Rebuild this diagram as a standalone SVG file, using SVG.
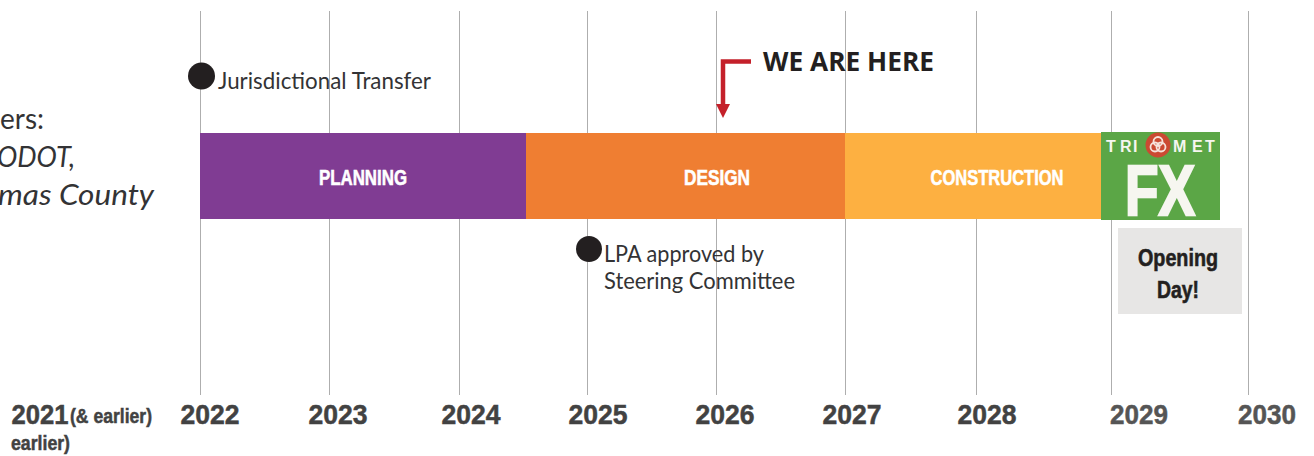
<svg xmlns="http://www.w3.org/2000/svg" width="1314" height="456" viewBox="0 0 1314 456">
<style>
.grid{stroke:#aeaeae;stroke-width:1;fill:none}
.src{font-family:Lato,"Open Sans",sans-serif;fill:#333335}
.bar{font-family:"Liberation Sans",Arial,sans-serif;font-weight:700;font-size:22px;fill:#fff;stroke:#fff;stroke-width:.6;text-anchor:middle}
.yr{font-family:"Liberation Sans",Arial,sans-serif;font-weight:700;font-size:28px;fill:#424242;stroke:#424242;stroke-width:.5;text-anchor:middle}
.sm{font-family:"Liberation Sans",Arial,sans-serif;font-weight:700;font-size:21px;fill:#424242;stroke:#424242;stroke-width:.5}
.op{font-family:"Liberation Sans",Arial,sans-serif;font-weight:700;font-size:24px;fill:#231f20;stroke:#231f20;stroke-width:.6;text-anchor:middle}
.logo{font-family:"Liberation Sans",Arial,sans-serif;font-weight:700;fill:#f6f6f0}
.dot{fill:#231f20}
</style>
<rect width="1314" height="456" fill="#fff"/>
<g id="connectors">
<path class="grid" d="M200.500 11V395M329.500 11V395M459.500 11V395M587.500 11V395M716.500 11V395M845.500 11V395M976.500 11V395M1111.500 11V395M1248.500 11V395"/>
</g>
<g id="partners">
<text class="src" x="44" y="129" font-size="29" text-anchor="end" textLength="44" lengthAdjust="spacingAndGlyphs">ers:</text>
<text class="src" x="75" y="167" font-size="29" font-style="italic" text-anchor="end" textLength="78" lengthAdjust="spacingAndGlyphs">ODOT,</text>
<text class="src" x="154" y="205" font-size="29" font-style="italic" text-anchor="end" textLength="156" lengthAdjust="spacingAndGlyphs">mas County</text>
</g>
<g id="jurisdictional-transfer">
<circle class="dot" cx="201.500" cy="76" r="13.500"/>
<text class="src" x="218" y="89" font-size="24" textLength="213" lengthAdjust="spacingAndGlyphs">Jurisdictional Transfer</text>
</g>
<g id="we-are-here">
<path d="M751 61.500H723V105" fill="none" stroke="#c4202a" stroke-width="4.500"/>
<path d="M716 104H730L723 118Z" fill="#c4202a"/>
<text x="763" y="71" font-family="'Open Sans','Noto Sans',sans-serif" font-weight="700" font-size="27" fill="#231f20" textLength="171" lengthAdjust="spacingAndGlyphs">WE ARE HERE</text>
</g>
<g id="planning">
<rect x="200" y="133" width="326" height="86" fill="#803c93"/>
<text class="bar" x="363" y="185" textLength="88" lengthAdjust="spacingAndGlyphs">PLANNING</text>
</g>
<g id="design">
<rect x="526" y="133" width="319" height="86" fill="#ef7e32"/>
<text class="bar" x="717" y="185" textLength="66" lengthAdjust="spacingAndGlyphs">DESIGN</text>
</g>
<g id="construction">
<rect x="845" y="133" width="258" height="86" fill="#fdb041"/>
<text class="bar" x="997" y="185" textLength="133" lengthAdjust="spacingAndGlyphs">CONSTRUCTION</text>
</g>
<g id="trimet-fx">
<rect x="1101" y="132" width="119" height="88" fill="#5ba646"/>
<circle cx="1158" cy="145" r="12.500" fill="#cb4a32"/>
<g fill="none" stroke="#f6e3dc" stroke-width="1.800">
<circle cx="1158" cy="141.500" r="4.500"/>
<circle cx="1155" cy="147" r="4.500"/>
<circle cx="1161" cy="147" r="4.500"/>
</g>
<text class="logo" x="1106 1120 1133" y="151.500" font-size="16">TRI</text>
<text class="logo" x="1173 1192 1205" y="151.500" font-size="16">MET</text>
<text class="logo" x="1160" y="214.500" font-size="71" stroke="#f6f6f0" stroke-width="2.500" text-anchor="middle" textLength="70" lengthAdjust="spacingAndGlyphs">FX</text>
</g>
<g id="opening-day">
<rect x="1118" y="228" width="124" height="86" fill="#e7e6e5"/>
<text class="op" x="1178" y="266" textLength="80" lengthAdjust="spacingAndGlyphs">Opening</text>
<text class="op" x="1178" y="298" textLength="42" lengthAdjust="spacingAndGlyphs">Day!</text>
</g>
<g id="lpa-approved">
<circle class="dot" cx="589" cy="249" r="13"/>
<text class="src" x="604" y="262" font-size="24" textLength="160" lengthAdjust="spacingAndGlyphs">LPA approved by</text>
<text class="src" x="604" y="289" font-size="24" textLength="191" lengthAdjust="spacingAndGlyphs">Steering Committee</text>
</g>
<g id="years">
<text class="yr" x="40" y="423.500" textLength="57" lengthAdjust="spacingAndGlyphs">2021</text>
<text class="sm" x="70" y="423" textLength="82" lengthAdjust="spacingAndGlyphs">(&amp; earlier)</text>
<text class="sm" x="11" y="450" textLength="59" lengthAdjust="spacingAndGlyphs">earlier)</text>
<text class="yr" x="210" y="423.500" textLength="59" lengthAdjust="spacingAndGlyphs">2022</text>
<text class="yr" x="338" y="423.500" textLength="59" lengthAdjust="spacingAndGlyphs">2023</text>
<text class="yr" x="471" y="423.500" textLength="59" lengthAdjust="spacingAndGlyphs">2024</text>
<text class="yr" x="598" y="423.500" textLength="59" lengthAdjust="spacingAndGlyphs">2025</text>
<text class="yr" x="725" y="423.500" textLength="59" lengthAdjust="spacingAndGlyphs">2026</text>
<text class="yr" x="852" y="423.500" textLength="59" lengthAdjust="spacingAndGlyphs">2027</text>
<text class="yr" x="987" y="423.500" textLength="59" lengthAdjust="spacingAndGlyphs">2028</text>
<text class="yr" x="1139" y="423.500" textLength="58" lengthAdjust="spacingAndGlyphs" style="fill:#555;stroke:#555">2029</text>
<text class="yr" x="1267" y="423.500" textLength="58" lengthAdjust="spacingAndGlyphs" style="fill:#555;stroke:#555">2030</text>
</g>
</svg>
